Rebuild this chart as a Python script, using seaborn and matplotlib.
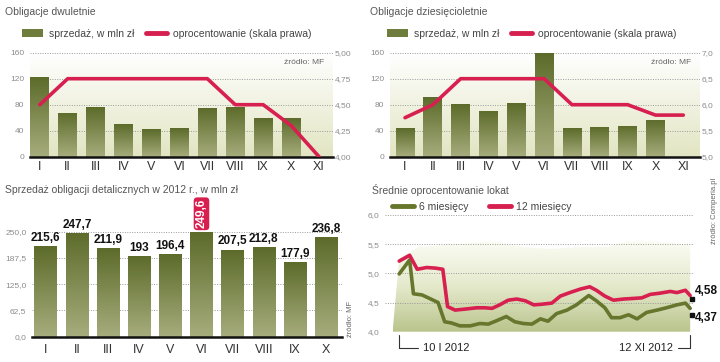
import numpy as np
import pandas as pd
import matplotlib
matplotlib.use("Agg")
import matplotlib.pyplot as plt
import matplotlib.transforms as mtransforms
import seaborn as sns
from matplotlib.colors import LinearSegmentedColormap
from matplotlib.patches import Patch, Polygon
from matplotlib.lines import Line2D

# --- dane ---
miesiace = ["I", "II", "III", "IV", "V", "VI", "VII", "VIII", "IX", "X", "XI"]

sprzedaz_2l = [123, 68, 76, 50, 42, 44, 75, 76, 60, 60, 0]
oproc_2l = [4.50, 4.75, 4.75, 4.75, 4.75, 4.75, 4.75, 4.50, 4.50, 4.30, 4.00]

sprzedaz_10l = [44, 92, 81, 71, 82, 160, 44, 45, 48, 57, 0]
oproc_10l = [5.75, 6.0, 6.5, 6.5, 6.5, 6.5, 6.0, 6.0, 6.0, 5.8, 5.8]

miesiace_det = miesiace[:10]
detal = [215.6, 247.7, 211.9, 193, 196.4, 249.6, 207.5, 212.8, 177.9, 236.8]

# lokaty: dni od 10 I 2012
dni_12 = [0, 11, 19, 29, 38, 46, 51, 59, 71, 82, 90, 98, 106, 115, 124, 133, 142, 150,
          161, 170, 180, 191, 201, 208, 217, 226, 237, 247, 256, 265, 275, 286, 293, 302, 307]
lokaty_12 = [5.21, 5.31, 5.07, 5.10, 5.09, 5.07, 4.43, 4.37, 4.39, 4.41, 4.41, 4.40, 4.46, 4.54,
             4.56, 4.53, 4.46, 4.47, 4.49, 4.61, 4.67, 4.73, 4.77, 4.71, 4.61, 4.54, 4.56, 4.57,
             4.58, 4.64, 4.66, 4.69, 4.67, 4.71, 4.62]
dni_6 = [0, 11, 15, 24, 32, 41, 48, 55, 64, 75, 85, 94, 103, 113, 122, 131, 140, 149, 157,
         166, 177, 187, 200, 208, 217, 224, 233, 242, 251, 261, 272, 282, 293, 302, 307]
lokaty_6 = [4.99, 5.23, 4.65, 4.63, 4.57, 4.50, 4.17, 4.15, 4.10, 4.10, 4.14, 4.13, 4.19, 4.26,
            4.17, 4.14, 4.13, 4.22, 4.18, 4.31, 4.37, 4.46, 4.62, 4.53, 4.41, 4.24, 4.24, 4.29,
            4.22, 4.33, 4.37, 4.41, 4.46, 4.49, 4.40]
# tlo (dekoracyjny obszar)
tlo_dni = [-7, 0, 20, 60, 100, 130, 160, 190, 220, 240, 270, 300, 307, 307]
tlo_val = [4.0, 5.25, 5.45, 5.5, 5.55, 5.45, 5.42, 5.45, 5.45, 5.55, 5.55, 5.5, 5.5, 4.0]

# --- styl ---
sns.set_style("white")
plt.rcParams['font.family'] = ['Liberation Sans', 'DejaVu Sans']

OLIVE_TOP = "#5c6b2a"
OLIVE_BOT = "#a7ad7d"
RED = "#d7204f"
GREEN_LINE = "#66762c"
GRID = "#9a9a9a"
TICK = "#8c8c8c"
TITLE = "#555555"

W, H = 720, 362
fig = plt.figure(figsize=(7.2, 3.62), dpi=100)


def box(l, r, t, b):
    return [l / W, 1 - b / H, (r - l) / W, (b - t) / H]


grad = np.linspace(0, 1, 256).reshape(-1, 1)
bar_cmap = LinearSegmentedColormap.from_list("bar", [OLIVE_BOT, OLIVE_TOP])
bg_cmap = LinearSegmentedColormap.from_list("bg", ["#e2e5c2", "#ffffff"])


def gradient_bars(ax):
    for p in ax.patches:
        h = p.get_height()
        if not h or np.isnan(h):
            continue
        x0, y0, w = p.get_x(), p.get_y(), p.get_width()
        im = ax.imshow(grad, cmap=bar_cmap, origin="lower", aspect="auto",
                       extent=(x0, x0 + w, y0, y0 + h), zorder=2, interpolation="bicubic")
        im.set_clip_path(p)
        p.set_facecolor("none")
        p.set_edgecolor("none")


def style_base(ax):
    for s in ["top", "right", "left"]:
        ax.spines[s].set_visible(False)
    ax.spines["bottom"].set_color("#111111")
    ax.spines["bottom"].set_linewidth(1.8)
    ax.spines["bottom"].set_zorder(5)
    ax.yaxis.grid(True, linestyle=(0, (1, 1.5)), color=GRID, lw=0.7)
    ax.set_axisbelow(True)
    ax.tick_params(axis="y", length=0, labelsize=6, labelcolor=TICK, pad=4)
    ax.tick_params(axis="x", length=0, labelsize=9, labelcolor="#333333", pad=3)
    ax.set_xlabel("")
    ax.set_ylabel("")


def fmt(v, d):
    return f"{v:.{d}f}".replace(".", ",")


def bond_panel(rect, sales, rate, rticks, rdec, xlim, title, tx):
    ax = fig.add_axes(rect)
    ax.imshow(grad, cmap=bg_cmap, origin="lower", aspect="auto", extent=(0, 1, 0, 1),
              transform=ax.transAxes, zorder=0)
    df = pd.DataFrame({"m": miesiace, "s": sales})
    sns.barplot(data=df, x="m", y="s", ax=ax, width=0.68, color=OLIVE_TOP)
    gradient_bars(ax)
    style_base(ax)
    ax.set_ylim(0, 160)
    ax.set_yticks([0, 40, 80, 120, 160])
    ax.set_xlim(*xlim)
    tw = ax.twinx()
    sns.lineplot(x=np.arange(len(rate)), y=rate, ax=tw, color=RED, lw=2.6)
    tw.set_ylim(rticks[0], rticks[-1])
    tw.set_yticks(rticks)
    tw.set_yticklabels([fmt(v, rdec) for v in rticks])
    tw.tick_params(axis="y", length=0, labelsize=6, labelcolor=TICK, pad=1)
    tw.set_ylabel("")
    for s in tw.spines.values():
        s.set_visible(False)
    tw.set_xlim(*xlim)
    ax.text(0.97, 0.91, "źródło: MF", transform=ax.transAxes, ha="right", va="center",
            fontsize=6, color="#666666")
    fig.text(tx / W, 1 - 12 / H, title, fontsize=7.5, color=TITLE, va="center")
    fig.legend(handles=[Patch(facecolor="#6f7d3c", edgecolor="none"),
                        Line2D([], [], color=RED, lw=3.5)],
               labels=["sprzedaż, w mln zł", "oprocentowanie (skala prawa)"],
               loc="center left", bbox_to_anchor=((tx + 17) / W, 1 - 34 / H), ncol=2,
               frameon=False, fontsize=7.5, handlelength=2.0, handleheight=0.8,
               handletextpad=0.6, columnspacing=1.1, labelcolor="#444444",
               borderaxespad=0, borderpad=0)
    return ax


bond_panel(box(30, 333, 52.7, 156.7), sprzedaz_2l, oproc_2l,
           [4.00, 4.25, 4.50, 4.75, 5.00], 2, (-0.35, 10.5), "Obligacje dwuletnie", 5)
bond_panel(box(390, 700, 52.7, 156.7), sprzedaz_10l, oproc_10l,
           [5.0, 5.5, 6.0, 6.5, 7.0], 1, (-0.54, 10.6), "Obligacje dziesięcioletnie", 370)

# --- sprzedaz detaliczna ---
ax3 = fig.add_axes(box(32, 342, 231.7, 336.7))
df3 = pd.DataFrame({"m": miesiace_det, "v": detal})
sns.barplot(data=df3, x="m", y="v", ax=ax3, width=0.72, color=OLIVE_TOP)
gradient_bars(ax3)
style_base(ax3)
ax3.set_ylim(0, 250)
ax3.set_yticks([0, 62.5, 125, 187.5, 250])
ax3.set_yticklabels([fmt(v, 1) for v in [0, 62.5, 125, 187.5, 250]])
ax3.set_xlim(-0.44, 9.51)
ax3.tick_params(axis="x", pad=5)
imax = int(np.argmax(detal))
for i, v in enumerate(detal):
    lab = f"{v:g}".replace(".", ",")
    if i == imax:
        ax3.annotate(lab, (i, v), xytext=(0, 2.5), textcoords="offset points", rotation=90,
                     ha="center", va="bottom", fontsize=8.5, color="white", weight="bold",
                     annotation_clip=False,
                     bbox=dict(boxstyle="round,pad=0.15,rounding_size=0.3", fc=RED, ec="none"))
    else:
        ax3.annotate(lab, (i, v), xytext=(0, 1.5), textcoords="offset points", ha="center",
                     va="bottom", fontsize=8.5, color="#111111", weight="bold",
                     annotation_clip=False)
fig.text(350 / W, 1 - 337 / H, "źródło: MF", rotation=90, fontsize=5.5, color="#666666",
         ha="center", va="bottom")
fig.text(5 / W, 1 - 190 / H, "Sprzedaż obligacji detalicznych w 2012 r., w mln zł",
         fontsize=7.5, color=TITLE, va="center")

# --- lokaty ---
ax4 = fig.add_axes(box(385, 693, 215, 331.7))
poly = Polygon(np.column_stack([tlo_dni, tlo_val]), closed=True, fc="none", ec="none")
ax4.add_patch(poly)
fill_cmap = LinearSegmentedColormap.from_list("fill", ["#b9c48c", "#e4e9cb", "#fbfcf4"])
im = ax4.imshow(grad, cmap=fill_cmap, origin="lower", aspect="auto",
                extent=(min(tlo_dni), max(tlo_dni), 4.0, max(tlo_val)), zorder=0)
im.set_clip_path(poly)
sns.lineplot(x=dni_6, y=lokaty_6, ax=ax4, color=GREEN_LINE, lw=2.6, zorder=3)
sns.lineplot(x=dni_12, y=lokaty_12, ax=ax4, color=RED, lw=2.6, zorder=3)
style_base(ax4)
ax4.spines["bottom"].set_visible(False)
ax4.set_ylim(4.0, 6.0)
ax4.set_xlim(-15, 310)
ax4.set_yticks([4.0, 4.5, 5.0, 5.5, 6.0])
ax4.set_yticklabels([fmt(v, 1) for v in [4.0, 4.5, 5.0, 5.5, 6.0]])
ax4.set_xticks([])
ax4.yaxis.grid(True, linestyle=(0, (1, 1.5)), color=GRID, lw=0.7)

for xs, ys, dy in [(dni_12, lokaty_12, 0.0), (dni_6, lokaty_6, -0.05)]:
    ax4.plot([xs[-1] + 1.5], [ys[-1] - 0.06 + dy], marker="s", ms=2.5, color="#111111",
             clip_on=False, zorder=4)
ax4.annotate(fmt(4.58, 2), (dni_12[-1], lokaty_12[-1]), xytext=(3.5, 3), textcoords="offset points",
             ha="left", va="center", fontsize=8.5, color="#111111", weight="bold",
             annotation_clip=False)
ax4.annotate(fmt(4.37, 2), (dni_6[-1], lokaty_6[-1]), xytext=(3.5, -7), textcoords="offset points",
             ha="left", va="center", fontsize=8.5, color="#111111", weight="bold",
             annotation_clip=False)

# daty pod osia
tr = mtransforms.blended_transform_factory(ax4.transData, ax4.transAxes)
yb = -(348 - 331.7) / 116.7
yt = -(335 - 331.7) / 116.7
ax4.plot([dni_12[0], dni_12[0], 20], [yt, yb, yb], color="#333333", lw=0.8,
         transform=tr, clip_on=False)
ax4.text(25, yb, "10 I 2012", transform=tr, ha="left", va="center", fontsize=8,
         color="#222222")
ax4.plot([dni_12[-1], dni_12[-1], 294], [yt, yb, yb], color="#333333", lw=0.8,
         transform=tr, clip_on=False)
ax4.text(289, yb, "12 XI 2012", transform=tr, ha="right", va="center", fontsize=8,
         color="#222222")

fig.text(372 / W, 1 - 190 / H, "Średnie oprocentowanie lokat", fontsize=7.5, color=TITLE,
         va="center")
fig.legend(handles=[Line2D([], [], color=GREEN_LINE, lw=3.5), Line2D([], [], color=RED, lw=3.5)],
           labels=["6 miesięcy", "12 miesięcy"], loc="center left",
           bbox_to_anchor=(392 / W, 1 - 207 / H), ncol=2, frameon=False, fontsize=7.5,
           handlelength=2.1, handletextpad=0.5, columnspacing=2.0, labelcolor="#444444",
           borderaxespad=0, borderpad=0)
fig.text(715 / W, 1 - 178 / H, "źródło: Comperia.pl", rotation=90, fontsize=5.5, color="#666666",
         ha="center", va="top")

fig.savefig("out.png", dpi=100)
